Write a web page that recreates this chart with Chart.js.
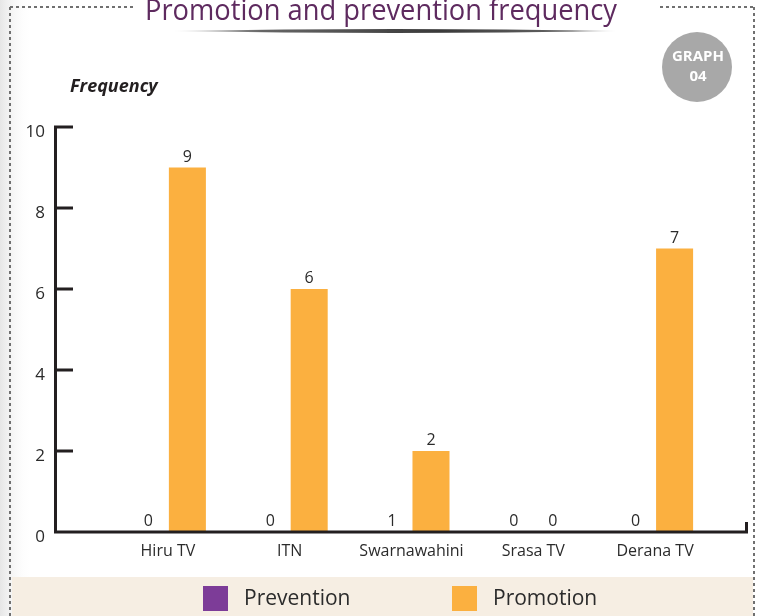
<!DOCTYPE html>
<html><head><meta charset="utf-8">
<script src="https://cdn.jsdelivr.net/npm/chart.js@4.4.1/dist/chart.umd.min.js"></script>
<style>html,body{margin:0;padding:0;background:#fff;overflow:hidden;} canvas{display:block;}</style>
</head><body>
<canvas id="c" width="758" height="616"></canvas>
<script>
// ---- data ----
const categories = ['Hiru TV', 'ITN', 'Swarnawahini', 'Srasa TV', 'Derana TV'];
const preventionValues = [0, 0, 1, 0, 0];
const promotionValues = [9, 6, 2, 0, 7];
const yTickValues = [0, 2, 4, 6, 8, 10];
const seriesNames = ['Prevention', 'Promotion'];
const titleText = 'Promotion and prevention frequency';
const yAxisTitle = 'Frequency';
const badgeLines = ['GRAPH', '04'];

// ---- styles ----
const FONT = '"Open Sans", "Noto Sans", sans-serif';
const PURPLE = '#7d3c98';
const ORANGE = '#fbb040';
const INK = '#231f20';
const TEXT = '#2b2b2b';

function dashLine(ctx, x1, y1, x2, y2) {
  ctx.save();
  ctx.strokeStyle = '#707070';
  ctx.lineWidth = 2;
  ctx.setLineDash([3, 3]);
  ctx.beginPath(); ctx.moveTo(x1, y1); ctx.lineTo(x2, y2); ctx.stroke();
  ctx.restore();
}

const decor = {
  id: 'decor',
  beforeDraw(chart) {
    const ctx = chart.ctx;
    ctx.save();
    ctx.fillStyle = '#fff';
    ctx.fillRect(0, 0, 758, 616);
    const g = ctx.createLinearGradient(0, 0, 32, 0);
    g.addColorStop(0, '#e6e6e6');
    g.addColorStop(1, 'rgba(255,255,255,0)');
    ctx.fillStyle = g;
    ctx.fillRect(0, 0, 32, 616);
    ctx.fillStyle = '#f6eee3';
    ctx.fillRect(12, 577, 741, 39);
    ctx.restore();
    dashLine(chart.ctx, 10, 7, 134, 7);
    dashLine(chart.ctx, 660, 7, 755, 7);
    dashLine(chart.ctx, 10, 7, 10, 616);
    dashLine(chart.ctx, 754, 7, 754, 616);
  },
  afterDraw(chart) {
    const ctx = chart.ctx;
    ctx.save();
    // title
    ctx.font = '30px ' + FONT;
    ctx.fillStyle = '#5e2a5f';
    ctx.textBaseline = 'alphabetic';
    ctx.textAlign = 'left';
    const w = ctx.measureText(titleText).width;
    ctx.save();
    ctx.translate(145, 20);
    ctx.scale(472 / w, 1);
    ctx.fillText(titleText, 0, 0);
    ctx.restore();
    // underline
    const ug = ctx.createLinearGradient(173, 0, 617, 0);
    ug.addColorStop(0, 'rgba(90,90,90,0.1)');
    ug.addColorStop(0.2, '#666');
    ug.addColorStop(0.6, '#3a3a3a');
    ug.addColorStop(0.9, '#666');
    ug.addColorStop(1, 'rgba(90,90,90,0.1)');
    ctx.fillStyle = ug;
    ctx.beginPath();
    ctx.moveTo(173, 31);
    ctx.quadraticCurveTo(395, 27, 617, 31);
    ctx.quadraticCurveTo(395, 35, 173, 31);
    ctx.fill();
    // badge
    ctx.fillStyle = '#a8a8a8';
    ctx.beginPath(); ctx.arc(697, 67, 35, 0, Math.PI * 2); ctx.fill();
    ctx.fillStyle = '#fff';
    ctx.font = 'bold 15px ' + FONT;
    ctx.textAlign = 'center';
    ctx.textBaseline = 'middle';
    ctx.fillText(badgeLines[0], 698, 57);
    ctx.fillText(badgeLines[1], 698, 77);
    // y axis title
    ctx.font = 'italic bold 18px ' + FONT;
    ctx.fillStyle = INK;
    ctx.textAlign = 'left';
    ctx.textBaseline = 'alphabetic';
    ctx.fillText(yAxisTitle, 70, 92);
    // legend
    const items = [
      { name: seriesNames[0], color: PURPLE, x: 203 },
      { name: seriesNames[1], color: ORANGE, x: 452 }
    ];
    ctx.font = '21px ' + FONT;
    items.forEach(it => {
      ctx.fillStyle = it.color;
      ctx.fillRect(it.x, 586, 25, 25);
      ctx.fillStyle = TEXT;
      ctx.fillText(it.name, it.x + 41, 605);
    });
    ctx.restore();
  }
};

const axes = {
  id: 'axes',
  afterDatasetsDraw(chart) {
    const ctx = chart.ctx;
    const y = chart.scales.y;
    const ax = 55.5;
    const y0 = y.getPixelForValue(0);
    const yTop = y.getPixelForValue(yTickValues[yTickValues.length - 1]);
    ctx.save();
    ctx.strokeStyle = INK;
    ctx.lineWidth = 3;
    ctx.lineCap = 'butt';
    ctx.beginPath();
    ctx.moveTo(ax, yTop - 1.5);
    ctx.lineTo(ax, y0 + 1.5);
    ctx.moveTo(ax - 1.5, y0);
    ctx.lineTo(748, y0);
    ctx.moveTo(746.5, y0 + 1.5);
    ctx.lineTo(746.5, y0 - 10);
    y.ticks.forEach(t => {
      const py = y.getPixelForValue(t.value);
      ctx.moveTo(ax, py);
      ctx.lineTo(73, py);
    });
    ctx.stroke();
    // y tick labels (from the scale's ticks)
    ctx.font = '17px ' + FONT;
    ctx.fillStyle = TEXT;
    ctx.textAlign = 'right';
    ctx.textBaseline = 'middle';
    y.ticks.forEach(t => {
      ctx.fillText(String(t.value), 45, y.getPixelForValue(t.value) + 5);
    });
    // value labels
    ctx.font = '16px ' + FONT;
    ctx.textAlign = 'center';
    ctx.textBaseline = 'alphabetic';
    chart.data.datasets.forEach((ds, di) => {
      const meta = chart.getDatasetMeta(di);
      meta.data.forEach((bar, i) => {
        const top = ds.labelAtBase ? bar.base : Math.min(bar.y, bar.base);
        ctx.fillText(String(ds.data[i]), bar.x, top - 6);
      });
    });
    ctx.restore();
  }
};

new Chart(document.getElementById('c'), {
  type: 'bar',
  data: {
    labels: categories,
    datasets: [
      { label: seriesNames[0], data: preventionValues, backgroundColor: 'rgba(0,0,0,0)', labelAtBase: true },
      { label: seriesNames[1], data: promotionValues, backgroundColor: ORANGE }
    ]
  },
  options: {
    responsive: false,
    animation: false,
    devicePixelRatio: 1,
    categoryPercentage: 0.64,
    barPercentage: 0.95,
    layout: { padding: { top: 127, right: 42, bottom: 39, left: 0 } },
    plugins: { legend: { display: false }, tooltip: { enabled: false }, title: { display: false } },
    scales: {
      x: {
        type: 'category',
        offset: true,
        grid: { display: false },
        border: { display: false },
        ticks: { font: { family: FONT, size: 16 }, color: TEXT, padding: 2, maxRotation: 0, autoSkip: false },
        afterFit: s => { s.height = 45; }
      },
      y: {
        min: 0, max: 10,
        grid: { display: false },
        border: { display: false },
        ticks: { display: false },
        afterBuildTicks: s => { s.ticks = yTickValues.map(v => ({ value: v })); },
        afterFit: s => { s.width = 107; }
      }
    }
  },
  plugins: [decor, axes]
});
</script>
</body></html>
